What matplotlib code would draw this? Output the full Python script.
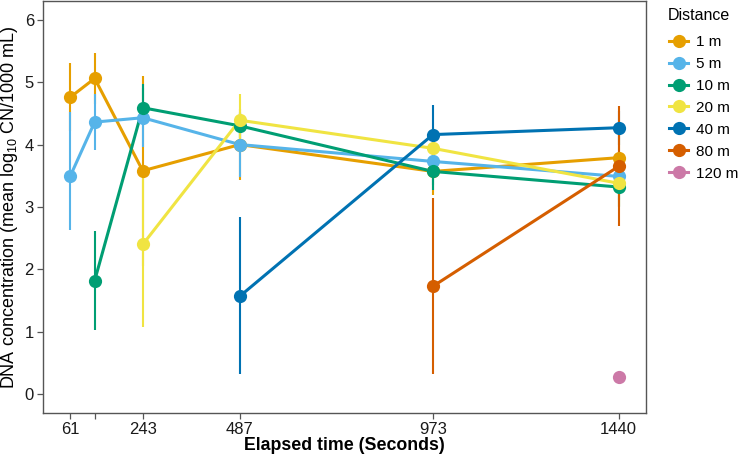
import matplotlib
matplotlib.use("Agg")
import matplotlib.pyplot as plt
from matplotlib.lines import Line2D
import numpy as np

# --- data ---
times = [61, 122, 243, 487, 973, 1440]
tick_labels = ["61", "", "243", "487", "973", "1440"]
distances = ["1 m", "5 m", "10 m", "20 m", "40 m", "80 m", "120 m"]
colors = ["#E69F00", "#56B4E9", "#009E73", "#F0E442", "#0072B2", "#D55E00", "#CC79A7"]

nan = np.nan
mean_1m = [4.76, 5.06, 3.58, 4.00, 3.57, 3.79]
lo_1m = [4.21, 4.65, 2.06, 3.43, 3.20, 3.40]
hi_1m = [5.31, 5.47, 5.10, 4.57, 3.94, 4.18]

mean_5m = [3.50, 4.36, 4.43, 4.00, 3.73, 3.49]
lo_5m = [2.63, 3.92, 3.96, 3.48, 3.36, 3.12]
hi_5m = [4.52, 4.81, 4.90, 4.52, 4.10, 3.86]

mean_10m = [nan, 1.82, 4.59, 4.30, 3.57, 3.32]
lo_10m = [nan, 1.03, 4.36, 4.10, 3.27, 3.00]
hi_10m = [nan, 2.61, 4.97, 4.50, 3.87, 3.64]

mean_20m = [nan, nan, 2.40, 4.39, 3.94, 3.38]
lo_20m = [nan, nan, 1.08, 3.97, 3.60, 3.02]
hi_20m = [nan, nan, 3.56, 4.81, 4.28, 3.74]

mean_40m = [nan, nan, nan, 1.57, 4.16, 4.27]
lo_40m = [nan, nan, nan, 0.32, 3.95, 4.00]
hi_40m = [nan, nan, nan, 2.84, 4.63, 4.54]

mean_80m = [nan, nan, nan, nan, 1.73, 3.65]
lo_80m = [nan, nan, nan, nan, 0.32, 2.69]
hi_80m = [nan, nan, nan, nan, 3.14, 4.61]

mean_120m = [nan, nan, nan, nan, nan, 0.27]
lo_120m = [nan, nan, nan, nan, nan, nan]
hi_120m = [nan, nan, nan, nan, nan, nan]

means = [mean_1m, mean_5m, mean_10m, mean_20m, mean_40m, mean_80m, mean_120m]
lows = [lo_1m, lo_5m, lo_10m, lo_20m, lo_40m, lo_80m, lo_120m]
highs = [hi_1m, hi_5m, hi_10m, hi_20m, hi_40m, hi_80m, hi_120m]

# --- style ---
plt.rcParams['font.family'] = ['Liberation Sans', 'DejaVu Sans']
plt.rcParams['mathtext.default'] = 'regular'

W, H = 740, 454
fig = plt.figure(figsize=(7.4, 4.54), dpi=100)
ax = fig.add_axes([43 / W, 41 / H, (646 - 43) / W, (413 - 1) / H])

x = np.array(times, dtype=float)

# error bars first, then lines, then points (as in the ggplot layers)
for m, lo, hi, c in zip(means, lows, highs, colors):
    lo = np.array(lo, dtype=float)
    hi = np.array(hi, dtype=float)
    ok = ~np.isnan(lo)
    ax.vlines(x[ok], lo[ok], hi[ok], color=c, linewidth=1.5, zorder=2)

for m, c in zip(means, colors):
    m = np.array(m, dtype=float)
    ok = ~np.isnan(m)
    ax.plot(x[ok], m[ok], color=c, linewidth=2.2, zorder=3, solid_capstyle='butt')

for m, c in zip(means, colors):
    m = np.array(m, dtype=float)
    ok = ~np.isnan(m)
    ax.plot(x[ok], m[ok], 'o', color=c, markersize=9.5, markeredgewidth=0, zorder=4)

# axes
span = times[-1] - times[0]
ax.set_xlim(times[0] - 0.05 * span, times[-1] + 0.05 * span)
ax.set_ylim(-0.3, 6.3)
ax.set_xticks(times)
ax.set_xticklabels(tick_labels)
ax.set_yticks([0, 1, 2, 3, 4, 5, 6])
ax.tick_params(axis='both', labelsize=12, colors='#555555', labelcolor='#1a1a1a',
               length=4, width=0.9, pad=2.5)
for s in ax.spines.values():
    s.set_color('#555555')
    s.set_linewidth(1.0)

ax.set_xlabel("Elapsed time (Seconds)", fontsize=12.8, fontweight='bold', labelpad=0)
ax.set_ylabel("DNA concentration (mean log$_{10}$ CN/1000 mL)", fontsize=13, labelpad=3)

# legend: title as separate text, entries below
fig.text(668 / W, 1 - 15 / H, "Distance", fontsize=11.5, ha='left', va='center')
handles = [Line2D([0], [0], color=c, linewidth=2.2, marker='o', markersize=9.5,
                  markeredgewidth=0) for c in colors]
leg = ax.legend(handles, distances, loc='upper left',
                bbox_to_anchor=(669 / W, 1 - 35 / H), bbox_transform=fig.transFigure,
                frameon=False, fontsize=11,
                handlelength=1.25, handletextpad=0.5, labelspacing=0.52,
                borderaxespad=0, borderpad=0)

fig.savefig("out.png", dpi=100)
